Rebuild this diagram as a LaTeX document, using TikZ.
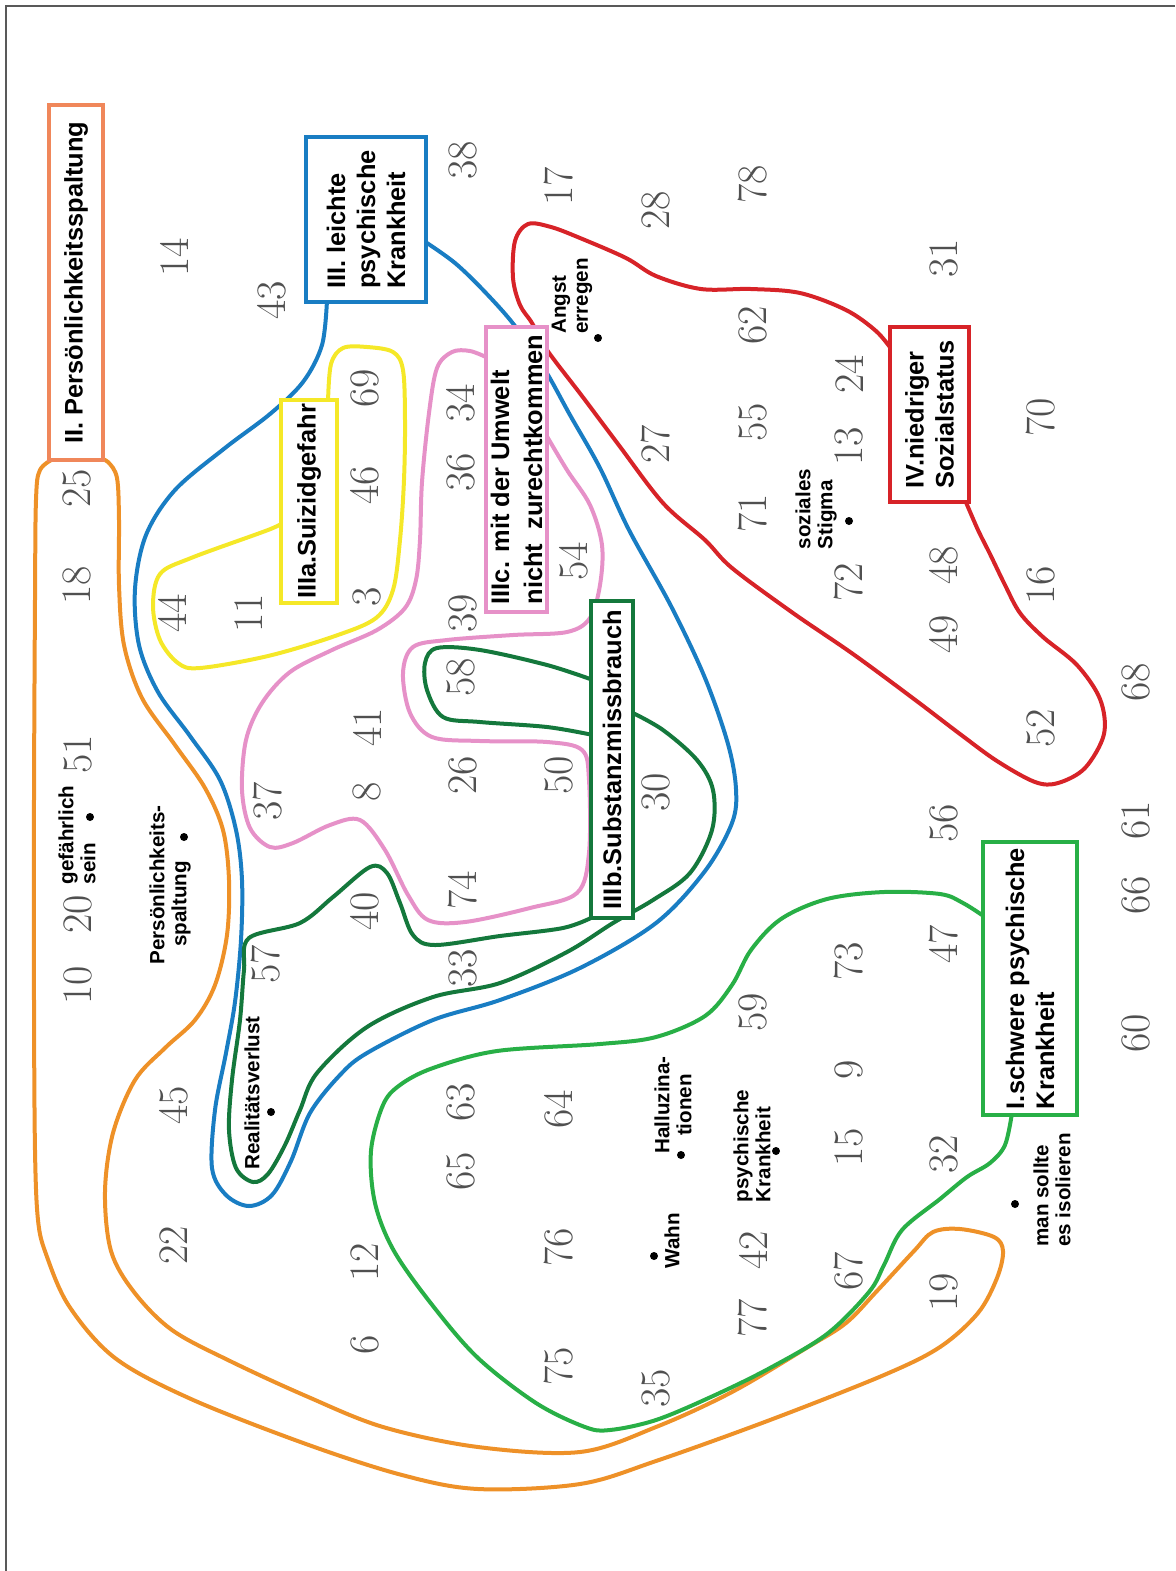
\documentclass[tikz,border=0pt]{standalone}
\usepackage{fontspec}
\newfontfamily\lab{Liberation Sans}
\definecolor{orbox}{RGB}{240,135,90}
\definecolor{orc}{RGB}{238,145,40}
\definecolor{bluec}{RGB}{25,125,195}
\definecolor{yelc}{RGB}{245,232,40}
\definecolor{pinkc}{RGB}{230,145,200}
\definecolor{dgreen}{RGB}{20,120,60}
\definecolor{redc}{RGB}{215,35,40}
\definecolor{greenc}{RGB}{40,175,70}
\definecolor{numgray}{RGB}{80,80,80}
\begin{document}
\begin{tikzpicture}[x=0.5pt,y=-0.5pt,
  num/.style={text=numgray, font=\fontsize{21}{21}\selectfont, rotate=90, inner sep=0pt},
  lbl/.style={font=\lab\bfseries\fontsize{10.3}{11}\selectfont, rotate=90, align=left, inner sep=0pt},
  boxlbl/.style={font=\lab\bfseries\fontsize{12.7}{15}\selectfont, rotate=90, fill=white, line width=2pt, inner sep=0pt, align=left},
  curve/.style={line width=2pt, line join=round, line cap=round},
  dotn/.style={circle, fill=black, inner sep=0pt, minimum size=4pt}]
\useasboundingbox (0,0) rectangle (1175,1571);
\draw[line width=0.7pt, black!65] (6,1571) -- (6,6) -- (1175,6);

% orange (II)
\draw[curve, orc] plot[smooth, tension=0.55] coordinates {
 (55,458) (40,470) (36,500) (35,600) (34,800) (34,1000) (35,1150) (38,1220) (46,1254) (69,1306)
 (115,1358) (191,1399) (306,1444) (402,1475) (478,1489) (580,1484) (656,1461) (770,1420)
 (884,1375) (940,1347) (978,1313) (997,1278) (1003,1251) (994,1237) (960,1229) (933,1232)
 (914,1251) (876,1292) (846,1323) (808,1347) (732,1392) (656,1427) (580,1452) (478,1447)
 (383,1427) (306,1396) (230,1361) (172,1330) (134,1292) (111,1251) (105,1192) (113,1133)
 (135,1080) (165,1048) (195,1020) (215,985) (227,935) (229,880) (223,830) (205,788) (175,745)
 (142,698) (124,645) (119,585) (119,520) (117,478) (108,462) (98,458)};

% blue (III)
\draw[curve, bluec] plot[smooth, tension=0.55] coordinates {
 (327,300) (322,345) (303,382) (270,414) (225,448) (175,490) (146,535) (135,589) (139,645)
 (158,692) (190,736) (220,780) (236,830) (242,880) (241,940) (235,1002) (226,1053) (215,1110) (212,1168)
 (226,1195) (249,1206) (272,1195) (291,1161) (310,1113) (340,1075) (367,1053) (433,1020)
 (500,1000) (580,968) (656,923) (705,871) (732,823) (736,789) (728,744) (705,678) (671,606)
 (629,530) (600,468) (570,415) (545,370) (515,326) (485,292) (455,263) (424,241)};

% yellow (IIIa)
\draw[curve, yelc] plot[smooth, tension=0.55] coordinates {
 (284,522) (268,530) (191,558) (160,574) (153,606) (160,640) (178,663) (200,668) (268,656)
 (335,636) (376,618) (393,590) (400,540) (404,480) (405,420) (403,370) (393,352) (367,347)
 (343,348) (331,364) (328,402)};

% pink (IIIc)
\draw[curve, pinkc] plot[smooth, tension=0.55] coordinates {
 (488,358) (470,351) (452,352) (437,368) (429,413) (422,482) (420,540) (416,580) (405,608)
 (377,630) (332,650) (290,672) (262,703) (246,740) (242,790) (250,828) (270,847) (293,843)
 (330,825) (360,820) (385,850) (408,895) (428,920) (465,922) (530,908) (577,893) (589,853)
 (589,780) (582,750) (547,742) (480,741) (432,737) (410,713) (403,673) (413,647) (447,640)
 (513,635) (567,632) (590,618) (600,585) (602,545) (590,505) (567,470) (545,433)};

% dark green (IIIb)
\draw[curve, dgreen] plot[smooth, tension=0.55] coordinates {
 (631,712) (663,730) (697,760) (713,790) (712,830) (690,873) (653,900) (613,923) (567,952)
 (500,983) (433,997) (367,1027) (317,1073) (300,1110) (285,1145) (268,1174) (253,1182)
 (236,1168) (229,1130) (232,1080) (240,1020) (244,970) (249,938) (300,923) (333,897)
 (370,867) (387,873) (400,903) (413,935) (435,945) (500,936) (563,928) (593,917)};
\draw[curve, dgreen] plot[smooth, tension=0.55] coordinates {
 (593,680) (547,665) (480,650) (437,648) (425,663) (427,690) (443,717) (480,722) (547,727) (593,735)};

% red (IV)
\draw[curve, redc] plot[smooth, tension=0.55] coordinates {
 (892,350) (876,331) (846,310) (800,293) (751,289) (701,289) (656,276) (626,258) (580,238)
 (551,227) (528,224) (515,241) (513,278) (520,305) (532,323) (547,350) (582,396) (618,444)
 (663,503) (705,540) (732,568) (793,613) (853,654) (914,699) (960,734) (997,761) (1035,782)
 (1058,783) (1085,768) (1104,734) (1100,699) (1077,665) (1043,637) (1020,613) (1005,585)
 (990,554) (978,530) (965,500)};

% green (I)
\draw[curve, greenc] plot[smooth, tension=0.55] coordinates {
 (985,917) (963,903) (940,894) (884,892) (827,899) (781,919) (751,950) (732,985) (705,1016)
 (656,1037) (600,1044) (497,1051) (433,1068) (400,1085) (383,1105) (371,1151) (375,1203)
 (394,1251) (433,1306) (478,1358) (536,1403) (585,1427) (610,1430) (656,1420) (713,1396)
 (770,1368) (827,1334) (869,1292) (884,1265) (902,1230) (940,1199) (967,1177) (990,1163)
 (1005,1145) (1012,1113)};

% label boxes
\node[boxlbl, draw=orbox, minimum width=177.5pt, minimum height=27pt] (bII) at (76,282.5) {II. Persönlichkeitsspaltung};
\node[boxlbl, draw=bluec, minimum width=82.5pt, minimum height=60pt] (bIII) at (366,219.5) {III. leichte\\psychische\\Krankheit};
\node[boxlbl, draw=yelc, minimum width=101.5pt, minimum height=28pt] (bIIIa) at (309,501.5) {IIIa.Suizidgefahr};
\node[boxlbl, draw=pinkc, minimum width=142.5pt, minimum height=30.5pt, font=\lab\bfseries\fontsize{12.7}{16.5}\selectfont] (bIIIc) at (516.5,469.5) {IIIc. mit der Umwelt\\nicht~~zurechtkommen};
\node[boxlbl, draw=dgreen, minimum width=158.5pt, minimum height=21pt] (bIIIb) at (612,759.5) {IIIb.Substanzmissbrauch};
\node[boxlbl, draw=redc, minimum width=87.5pt, minimum height=39.5pt] (bIV) at (929.5,414.5) {IV.niedriger\\Sozialstatus};
\node[boxlbl, draw=greenc, minimum width=136.5pt, minimum height=47pt] (bI) at (1030,978.5) {I.schwere psychische\\Krankheit};

% small labels with dots
\node[lbl] (lgef) at (77,835) {gefährlich\\sein};
\node[dotn] (dgef) at (90,817) {};
\node[lbl, align=center] (lper) at (170,885) {Persönlichkeits-\\spaltung\hspace*{19pt}};
\node[dotn] (dper) at (184,837) {};
\node[lbl] (lrea) at (252,1093) {Realitätsverlust};
\node[dotn] (drea) at (271,1112) {};
\node[lbl] (lang) at (572,296) {Angst\\erregen};
\node[dotn] (dang) at (598,338) {};
\node[lbl] (lsoz) at (816,509) {soziales\\Stigma};
\node[dotn] (dsoz) at (849,521) {};
\node[lbl, align=center] (lhal) at (673,1105) {Halluzina-\\tionen};
\node[dotn] (dhal) at (681,1155) {};
\node[lbl] (lpsy) at (752,1146) {psychische\\Krankheit};
\node[dotn] (dpsy) at (776,1151) {};
\node[lbl] (lwahn) at (672,1241) {Wahn};
\node[dotn] (dwahn) at (654,1256) {};
\node[lbl] (liso) at (1052,1190) {man sollte\\es isolieren};
\node[dotn] (diso) at (1015,1204) {};

% numbers
\foreach \n/\x/\y in {
 25/77/488, 18/77/585, 51/78/754, 20/78/914, 10/78/985,
 14/174/257, 44/172/613, 45/174/1105, 22/174/1245,
 43/272/300, 11/249/613, 37/268/801, 57/266/964,
 69/365/388, 46/365/485, 3/367/597, 41/367/727, 8/367/792, 40/365/911, 12/365/1262, 6/365/1345,
 38/463/160, 34/461/403, 36/461/472, 39/463/613, 58/461/677, 26/463/775, 74/463/890, 33/463/968, 63/461/1102, 65/461/1171,
 17/559/186, 54/574/561, 50/559/775, 64/559/1109, 76/559/1247, 75/559/1366,
 28/656/210, 27/656/444, 30/656/792, 35/656/1388,
 78/753/184, 62/753/325, 55/753/422, 71/753/513, 59/753/1012, 42/753/1250, 77/753/1318,
 24/849/374, 13/849/446, 72/849/582, 73/849/961, 9/849/1070, 15/849/1147, 67/849/1271,
 31/944/258, 48/944/565, 49/944/634, 56/944/823, 47/944/944, 32/944/1154, 19/944/1292,
 70/1041/417, 16/1041/585, 52/1041/728,
 68/1136/682, 61/1136/820, 66/1136/895, 60/1136/1033}
 \node[num] (n\n) at (\x,\y) {\n};
\end{tikzpicture}
\end{document}
